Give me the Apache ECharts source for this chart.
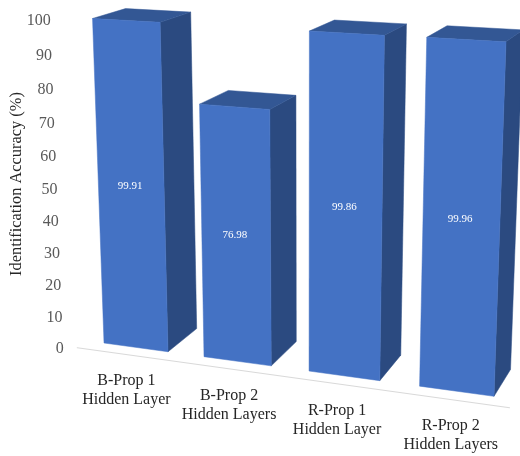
<!DOCTYPE html>
<html>
<head>
<meta charset="utf-8">
<style>html,body{margin:0;padding:0;background:#fff}#chart{width:520px;height:456px}</style>
<script src="https://cdn.jsdelivr.net/npm/echarts@6/dist/echarts.min.js"></script>
</head>
<body>
<div id="chart"></div>
<script>
// Chart content
const categories = ['B-Prop 1\nHidden Layer', 'B-Prop 2\nHidden Layers', 'R-Prop 1\nHidden Layer', 'R-Prop 2\nHidden Layers'];
const accuracy = [99.91, 76.98, 99.86, 99.96];
const valueTicks = [0, 10, 20, 30, 40, 50, 60, 70, 80, 90, 100];
const axisTitle = 'Identification Accuracy (%)';

// Perspective camera: world (slot, value, depth) to screen, as a 3x4 homogeneous matrix
const CAMERA = [
  [95.1, -0.1651, 36.45, 104],
  [5.096, -3.258, -9.01, 343],
  [-0.02404, -0.000543, 0.0419, 1]
];
const SLOT_START = -0.177;     // world x of the left edge of the first category band
const BAR_WIDTH = 0.6456;      // bar width in category bands
const BAR_DEPTH = 1;           // depth of each box
const FLOOR_Z = -0.3;          // depth of the floor line in front of the bars

const FRONT = '#4472C4', SIDE = '#2B4A80', TOP = '#335794';
const SERIF = '"Liberation Serif", "Times New Roman", serif';

function project(x, y, z) {
  const [a, b, c] = CAMERA;
  const w = c[0] * x + c[1] * y + c[2] * z + c[3];
  return [
    (a[0] * x + a[1] * y + a[2] * z + a[3]) / w,
    (b[0] * x + b[1] * y + b[2] * z + b[3]) / w
  ];
}

// Turn a pixel from the flat cartesian grid into world (slot, value)
function toWorld(params, pixel) {
  const g = params.coordSys;
  return [
    (pixel[0] - g.x) / g.width * categories.length + SLOT_START,
    (g.y + g.height - pixel[1]) / g.height * 100
  ];
}

function renderBar(params, api) {
  const cat = api.value(0), val = api.value(1);
  const [cx, top] = toWorld(params, api.coord([cat, val]));
  const x0 = cx - BAR_WIDTH / 2, x1 = cx + BAR_WIDTH / 2;
  const face = (pts, fill) => ({
    type: 'polygon',
    shape: { points: pts.map(p => project(p[0], p[1], p[2])) },
    style: { fill: fill, stroke: fill, lineWidth: 0.5 }
  });
  const mid = project(cx, top / 2, 0);
  return {
    type: 'group',
    children: [
      face([[x1, 0, 0], [x1, 0, BAR_DEPTH], [x1, top, BAR_DEPTH], [x1, top, 0]], SIDE),
      face([[x0, top, 0], [x0, top, BAR_DEPTH], [x1, top, BAR_DEPTH], [x1, top, 0]], TOP),
      face([[x0, 0, 0], [x1, 0, 0], [x1, top, 0], [x0, top, 0]], FRONT),
      {
        type: 'text',
        style: {
          text: val.toFixed(2), x: mid[0] - 1, y: mid[1] - 2,
          fill: '#fff', font: '11px ' + SERIF, align: 'center', verticalAlign: 'middle'
        }
      }
    ]
  };
}

function renderCategoryLabel(params, api) {
  const cat = api.value(0);
  const [cx] = toWorld(params, api.coord([cat, 0]));
  const p = project(cx, 0, FLOOR_Z);
  return {
    type: 'text',
    style: {
      text: categories[cat], x: p[0], y: p[1] + 36,
      fill: '#262626', font: '16px ' + SERIF, lineHeight: 19,
      align: 'center', verticalAlign: 'middle'
    }
  };
}

function renderTick(params, api) {
  const [, v] = toWorld(params, api.coord([0, api.value(0)]));
  const p = project(SLOT_START, v, FLOOR_Z);
  return {
    type: 'text',
    style: {
      text: String(api.value(0)), x: p[0] - 13, y: p[1] + 1,
      fill: '#595959', font: '16px ' + SERIF, align: 'right', verticalAlign: 'middle'
    }
  };
}

function renderFloor(params) {
  const a = project(SLOT_START, 0, FLOOR_Z);
  const b = project(SLOT_START + categories.length, 0, FLOOR_Z);
  return {
    type: 'line',
    shape: { x1: a[0], y1: a[1], x2: b[0], y2: b[1] },
    style: { stroke: '#D9D9D9', lineWidth: 1 }
  };
}

const chart = echarts.init(document.getElementById('chart'), null, { renderer: 'canvas' });
chart.setOption({
  animation: false,
  backgroundColor: '#fff',
  grid: { left: 80, right: 20, top: 20, bottom: 100 },
  xAxis: { type: 'category', data: categories, show: false },
  yAxis: { type: 'value', min: 0, max: 100, interval: 10, show: false },
  graphic: [{
    type: 'text', x: 17, y: 184, rotation: Math.PI / 2,
    style: {
      text: axisTitle, x: 0, y: 0, fill: '#262626', font: '16.4px ' + SERIF,
      align: 'center', verticalAlign: 'middle'
    }
  }],
  series: [
    { type: 'custom', renderItem: renderFloor, data: [[0]], silent: true, z: 1 },
    { type: 'custom', renderItem: renderTick, data: valueTicks.map(v => [v]), encode: { y: 0 }, silent: true, z: 2 },
    { type: 'custom', renderItem: renderCategoryLabel, data: categories.map((c, i) => [i]), silent: true, z: 2 },
    { type: 'custom', renderItem: renderBar, data: accuracy.map((v, i) => [i, v]), encode: { x: 0, y: 1 }, z: 3 }
  ]
});
</script>
</body>
</html>
